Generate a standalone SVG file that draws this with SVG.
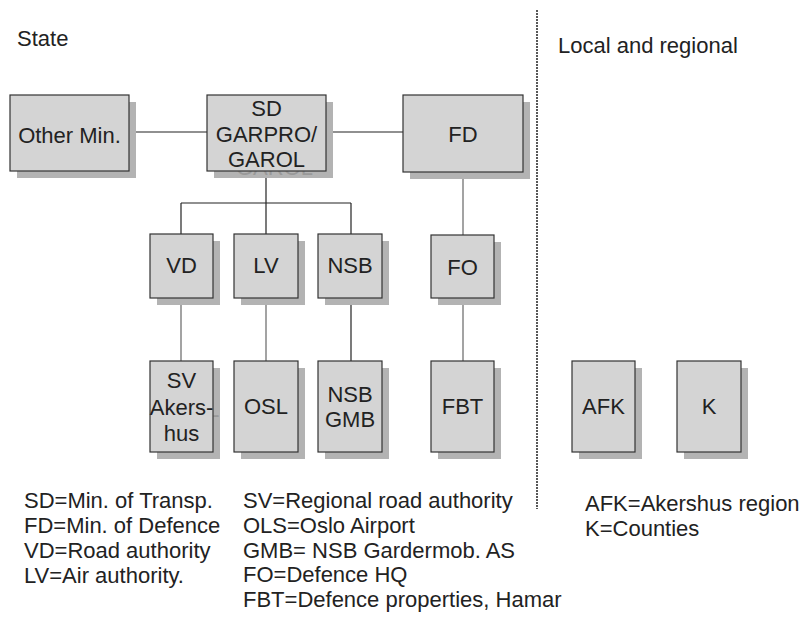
<svg xmlns="http://www.w3.org/2000/svg" width="805" height="619" viewBox="0 0 805 619">
<style>
text{font-family:"Liberation Sans",Arial,sans-serif;font-size:22px;fill:#222}
.n text{text-anchor:middle}
.box{fill:#d4d4d4;stroke:#333;stroke-width:1.2}
.sh{fill:#b3b3b3}
.ghost{fill:#999}
.c line{stroke:#222;stroke-width:1.2}
.c line.g{stroke:#666}
</style>
<defs>
<clipPath id="cSD"><rect x="214" y="102" width="119" height="76"/></clipPath>
<clipPath id="cSV"><rect x="157" y="368" width="63" height="91"/></clipPath>
</defs>
<rect width="805" height="619" fill="#fff"/>
<text x="17" y="46">State</text>
<text x="558" y="53">Local and regional</text>
<line x1="537" y1="10" x2="537" y2="509" stroke="#222" stroke-width="1.5" stroke-dasharray="2 1"/>
<g class="c">
<line x1="129" y1="132" x2="207" y2="132"/>
<line x1="326" y1="132" x2="403" y2="132"/>
<line x1="266" y1="171" x2="266" y2="234"/>
<line x1="181" y1="203" x2="351" y2="203"/>
<line x1="181" y1="203" x2="181" y2="234"/>
<line x1="351" y1="203" x2="351" y2="234"/>
<line class="g" x1="181" y1="298" x2="181" y2="361"/>
<line class="g" x1="266" y1="298" x2="266" y2="361"/>
<line x1="351" y1="298" x2="351" y2="361"/>
<line class="g" x1="463" y1="172" x2="463" y2="235"/>
<line class="g" x1="463" y1="298" x2="463" y2="361"/>
</g>
<g id="other" class="n"><rect class="sh" x="17" y="102" width="119" height="76"/><rect class="box" x="10" y="95" width="119" height="76"/><text x="69.5" y="143">Other Min.</text></g>
<g id="sd" class="n"><rect class="sh" x="214" y="102" width="119" height="76"/><text class="ghost" x="274.5" y="175" clip-path="url(#cSD)">GAROL</text><rect class="box" x="207" y="95" width="119" height="76"/><text x="266.5" y="116">SD</text><text x="266.5" y="142">GARPRO/</text><text x="266.5" y="167">GAROL</text></g>
<g id="fd" class="n"><rect class="sh" x="410" y="102" width="120" height="77"/><rect class="box" x="403" y="95" width="120" height="77"/><text x="463" y="142">FD</text></g>
<g id="vd" class="n"><rect class="sh" x="157" y="241" width="63" height="64"/><rect class="box" x="150" y="234" width="63" height="64"/><text x="181.5" y="273">VD</text></g>
<g id="lv" class="n"><rect class="sh" x="241" y="241" width="64" height="64"/><rect class="box" x="234" y="234" width="64" height="64"/><text x="266" y="273">LV</text></g>
<g id="nsb" class="n"><rect class="sh" x="325" y="241" width="64" height="64"/><rect class="box" x="318" y="234" width="64" height="64"/><text x="350" y="273">NSB</text></g>
<g id="fo" class="n"><rect class="sh" x="438" y="242" width="63" height="63"/><rect class="box" x="431" y="235" width="63" height="63"/><text x="462.5" y="275">FO</text></g>
<g id="sv" class="n"><rect class="sh" x="157" y="368" width="63" height="91"/><text class="ghost" x="216" y="422" clip-path="url(#cSV)" style="text-anchor:middle">-</text><rect class="box" x="150" y="361" width="63" height="91"/><text x="181.5" y="388">SV</text><text x="181.5" y="415">Akers-</text><text x="181.5" y="441">hus</text></g>
<g id="osl" class="n"><rect class="sh" x="241" y="368" width="64" height="91"/><rect class="box" x="234" y="361" width="64" height="91"/><text x="266" y="414">OSL</text></g>
<g id="nsbgmb" class="n"><rect class="sh" x="325" y="368" width="64" height="91"/><rect class="box" x="318" y="361" width="64" height="91"/><text x="350" y="402">NSB</text><text x="350" y="427">GMB</text></g>
<g id="fbt" class="n"><rect class="sh" x="438" y="368" width="63" height="91"/><rect class="box" x="431" y="361" width="63" height="91"/><text x="462.5" y="414">FBT</text></g>
<g id="afk" class="n"><rect class="sh" x="579" y="368" width="63" height="91"/><rect class="box" x="572" y="361" width="63" height="91"/><text x="603.5" y="414">AFK</text></g>
<g id="k" class="n"><rect class="sh" x="684" y="368" width="64" height="91"/><rect class="box" x="677" y="361" width="64" height="91"/><text x="709" y="414">K</text></g>
<g id="legend">
<text x="24" y="508">SD=Min. of Transp.</text>
<text x="24" y="533">FD=Min. of Defence</text>
<text x="24" y="558">VD=Road authority</text>
<text x="24" y="583">LV=Air authority.</text>
<text x="243" y="508">SV=Regional road authority</text>
<text x="243" y="533">OLS=Oslo Airport</text>
<text x="243" y="558">GMB= NSB Gardermob. AS</text>
<text x="243" y="582">FO=Defence HQ</text>
<text x="243" y="607">FBT=Defence properties, Hamar</text>
<text x="585" y="511">AFK=Akershus region</text>
<text x="585" y="536">K=Counties</text>
</g>
</svg>
